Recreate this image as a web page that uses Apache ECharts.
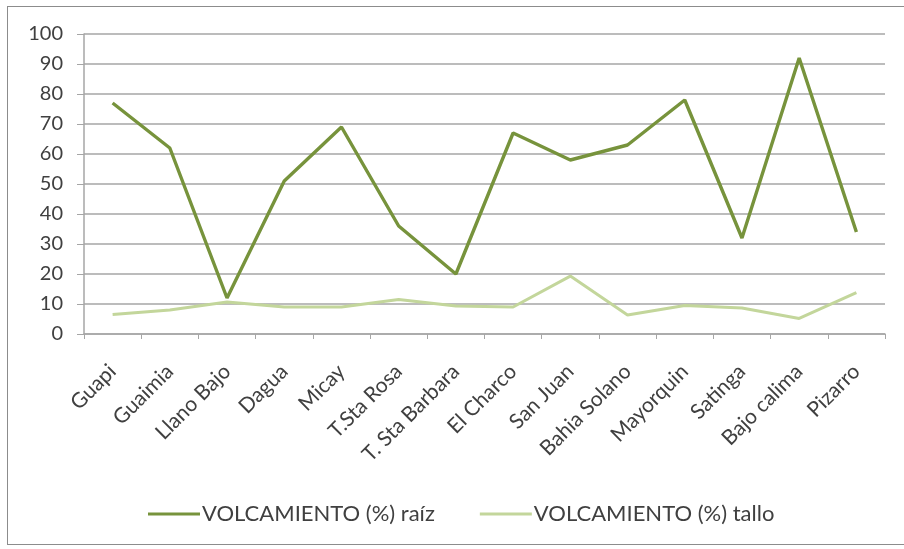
<!DOCTYPE html>
<html>
<head>
<meta charset="utf-8">
<script src="https://cdn.jsdelivr.net/npm/echarts@6/dist/echarts.min.js"></script>
<style>
  html, body { margin: 0; padding: 0; background: #fff; }
  #frame {
    position: absolute; left: 7px; top: 6px; width: 900px; height: 539px;
    border: 1.5px solid #8c8c8c; box-sizing: border-box;
  }
  #chart { position: absolute; left: 0; top: 0; width: 904px; height: 549px; }
</style>
</head>
<body>
<div id="frame"></div>
<div id="chart"></div>
<script>
// sitios muestreados
const sitios = ['Guapi', 'Guaimia', 'Llano Bajo', 'Dagua', 'Micay', 'T.Sta Rosa', 'T. Sta Barbara',
  'El Charco', 'San Juan', 'Bahia Solano', 'Mayorquin', 'Satinga', 'Bajo calima', 'Pizarro']

// volcamiento por raiz y por tallo (%)
const raiz = [77, 62, 12, 51, 69, 36, 20, 67, 58, 63, 78, 32, 92, 34]
const tallo = [6.5, 8, 10.7, 9, 9, 11.5, 9.3, 9, 19.3, 6.3, 9.5, 8.7, 5.2, 13.8]

const seriesNames = ['VOLCAMIENTO (%) raíz', 'VOLCAMIENTO (%) tallo']

const textColor = '#404040'
const font = 'Lato, "Open Sans", sans-serif'

const chart = echarts.init(document.getElementById('chart'))
chart.setOption({
  animation: false,
  grid: { left: 84, right: 19, top: 34, bottom: 215 },
  legend: {
    top: 498,
    left: 143,
    icon: 'rect',
    itemWidth: 52,
    itemHeight: 3,
    itemGap: 45,
    textStyle: { color: textColor, fontSize: 22, fontFamily: font, padding: [0, 0, 0, -3] },
    data: seriesNames
  },
  xAxis: {
    type: 'category',
    data: sitios,
    boundaryGap: true,
    axisLine: { lineStyle: { color: '#a6a6a6', width: 1.5 } },
    axisTick: { show: true, length: 5, lineStyle: { color: '#a6a6a6' } },
    axisLabel: {
      rotate: 45, margin: 34, interval: 0,
      color: textColor, fontSize: 21, fontFamily: font
    }
  },
  yAxis: {
    type: 'value',
    min: 0,
    max: 100,
    interval: 10,
    axisLine: { show: true, lineStyle: { color: '#a6a6a6', width: 1.5 } },
    axisTick: { show: true, length: 7, lineStyle: { color: '#a6a6a6' } },
    axisLabel: { color: textColor, fontSize: 20, fontFamily: font, margin: 21 },
    splitLine: { lineStyle: { color: '#a6a6a6', width: 1.5 } }
  },
  series: [
    {
      name: seriesNames[0],
      type: 'line',
      data: raiz,
      symbol: 'none',
      lineStyle: { color: '#77933c', width: 3.4 },
      itemStyle: { color: '#77933c' }
    },
    {
      name: seriesNames[1],
      type: 'line',
      data: tallo,
      symbol: 'none',
      lineStyle: { color: '#c3d69b', width: 3 },
      itemStyle: { color: '#c3d69b' }
    }
  ]
})
</script>
</body>
</html>
